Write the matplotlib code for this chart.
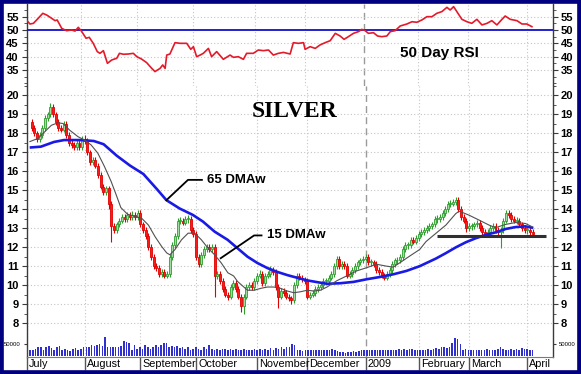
import matplotlib
matplotlib.use("Agg")
import matplotlib.pyplot as plt
from matplotlib.patches import Rectangle
from matplotlib.transforms import Bbox, blended_transform_factory

# ---------------- data (trading-day index: 0 = 1 July 2008) ----------------
first_day = 2
closes = [18.3,18.0,17.7,17.9,18.3,18.8,19.0,19.4,19.0,18.6,
          18.3,18.2,18.5,17.9,17.5,17.4,17.3,17.5,17.3,17.7,
          17.6,17.0,16.5,16.6,16.3,15.8,15.2,14.9,15.1,14.3,
          13.1,12.9,13.2,13.4,13.6,13.5,13.7,13.6,13.7,13.6,
          13.8,13.2,12.9,12.6,12.0,11.5,11.0,10.9,10.6,10.7,
          10.5,10.6,11.5,12.1,12.6,13.4,13.4,13.3,13.5,13.5,
          12.9,12.7,11.5,11.1,11.6,11.9,12.0,11.9,12.0,10.5,
          10.6,10.2,9.8,9.5,9.4,9.9,10.1,9.8,9.4,8.9,
          9.4,9.9,10.0,9.9,10.2,10.5,10.6,10.1,10.5,10.6,
          10.8,10.7,9.9,9.4,9.7,9.6,9.4,9.3,9.2,10.0,
          10.5,10.4,10.3,10.2,9.4,9.5,9.6,9.8,9.9,10.0,
          10.2,10.2,10.4,10.6,11.0,11.4,11.0,11.1,11.0,10.5,
          10.6,10.8,11.0,11.2,11.3,11.4,11.5,11.2,11.2,11.1,
          10.8,10.7,10.5,10.4,10.6,10.8,11.1,11.3,11.3,11.5,
          11.9,12.1,12.1,12.4,12.3,12.5,12.7,12.8,12.9,13.0,
          13.1,13.2,13.5,13.5,13.6,13.8,14.0,14.3,14.3,14.4,
          14.5,14.0,13.6,13.4,13.0,13.1,13.1,13.2,13.3,13.0,
          12.8,12.7,12.8,13.0,13.1,12.9,12.8,12.9,13.4,13.8,
          13.7,13.5,13.4,13.4,13.2,13.0,12.9,12.9,12.8,12.7]
opens = [18.6,18.3,18.0,17.7,17.9,18.3,18.8,19.0,19.4,19.0,
         18.6,18.3,18.2,18.5,17.9,17.5,17.4,17.3,17.5,17.3,
         17.7,17.6,17.0,16.5,16.6,16.3,15.8,15.2,14.9,15.1,
         14.3,13.1,12.9,13.2,13.4,13.6,13.5,13.7,13.6,13.7,
         13.6,13.8,13.2,12.9,12.6,12.0,11.5,11.0,10.9,10.6,
         10.7,10.5,10.6,11.5,12.1,12.6,13.4,13.4,13.3,13.5,
         13.5,12.9,12.7,11.5,11.1,11.6,11.9,12.0,11.9,12.0,
         10.5,10.6,10.2,9.8,9.5,9.4,9.9,10.1,9.8,9.4,
         8.9,9.4,9.9,10.0,9.9,10.2,10.5,10.6,10.1,10.5,
         10.6,10.8,10.7,9.9,9.4,9.7,9.6,9.4,9.3,9.2,
         10.0,10.5,10.4,10.3,10.2,9.4,9.5,9.6,9.8,9.9,
         10.0,10.2,10.2,10.4,10.6,11.0,11.4,11.0,11.1,11.0,
         10.5,10.6,10.8,11.0,11.2,11.3,11.4,11.5,11.2,11.2,
         11.1,10.8,10.7,10.5,10.4,10.6,10.8,11.1,11.3,11.3,
         11.5,11.9,12.1,12.1,12.4,12.3,12.5,12.7,12.8,12.9,
         13.0,13.1,13.2,13.5,13.5,13.6,13.8,14.0,14.3,14.3,
         14.4,14.5,14.0,13.6,13.4,13.0,13.1,13.1,13.2,13.3,
         13.0,12.8,12.7,12.8,13.0,13.1,12.9,12.8,12.9,13.4,
         13.8,13.7,13.5,13.4,13.4,13.2,13.0,12.9,12.9,12.8]
highs = [18.75,18.45,18.15,18.05,18.45,18.95,19.15,19.6,19.55,19.15,
         18.75,18.45,18.65,18.65,18.05,17.65,17.55,17.65,17.65,17.85,
         17.9,17.75,17.15,16.75,16.75,16.45,15.95,15.35,15.25,15.25,
         14.45,13.25,13.35,13.55,13.75,13.75,13.85,13.85,13.9,13.85,
         13.95,13.95,13.35,13.05,12.75,12.15,11.65,11.15,11.05,10.85,
         10.85,10.75,11.65,12.25,12.75,13.55,13.6,13.55,13.65,13.7,
         13.65,13.05,12.85,11.65,11.75,12.05,12.15,12.15,12.15,12.15,
         10.75,10.75,10.35,9.95,9.65,10.05,10.25,10.25,9.95,9.55,
         9.55,10.05,10.15,10.15,10.35,10.65,10.8,10.75,10.65,10.75,
         11.0,10.95,10.85,10.05,9.85,9.85,9.75,9.55,9.45,10.15,
         10.65,10.65,10.55,10.45,10.35,9.65,9.75,9.95,10.05,10.15,
         10.35,10.4,10.55,10.75,11.15,11.55,11.55,11.25,11.25,11.15,
         10.75,10.95,11.15,11.35,11.45,11.55,11.65,11.65,11.4,11.35,
         11.25,10.95,10.85,10.65,10.75,10.95,11.25,11.45,11.5,11.65,
         12.05,12.25,12.3,12.55,12.55,12.65,12.85,12.95,13.05,13.15,
         13.25,13.35,13.65,13.7,13.75,13.95,14.15,14.45,14.5,14.55,
         14.65,14.65,14.15,13.75,13.55,13.25,13.3,13.35,13.45,13.45,
         13.15,12.95,12.95,13.15,13.25,13.25,13.05,13.05,13.55,13.95,
         13.95,13.85,13.65,13.6,13.55,13.35,13.15,13.05,13.05,12.95]
lows = [18.15,17.85,17.55,17.55,17.75,18.15,18.65,18.85,18.85,18.45,
        18.15,18.05,18.05,17.75,17.35,17.25,17.15,17.15,17.15,17.15,
        17.45,16.85,16.35,16.35,16.15,15.65,15.05,14.75,14.75,14.0,
        12.3,12.75,12.75,13.05,13.25,13.35,13.35,13.45,13.45,13.45,
        13.45,13.05,12.75,12.45,11.85,11.35,10.85,10.75,10.45,10.45,
        10.35,10.35,10.45,11.35,11.95,12.45,13.2,13.15,13.15,13.3,
        12.75,12.55,11.3,10.95,10.95,11.45,11.75,11.75,11.75,9.4,
        10.3,10.05,9.65,9.35,9.2,9.25,9.75,9.65,9.25,8.6,
        8.5,9.25,9.75,9.75,9.75,10.05,10.35,9.95,9.95,10.35,
        10.45,10.55,9.75,8.8,9.25,9.45,9.25,9.15,9.0,9.05,
        9.85,10.25,10.15,10.05,9.25,9.25,9.35,9.45,9.65,9.75,
        9.85,10.0,10.05,10.25,10.45,10.85,10.85,10.85,10.85,10.35,
        10.35,10.45,10.65,10.85,11.05,11.15,11.25,11.05,11.0,10.95,
        10.65,10.55,10.35,10.25,10.25,10.45,10.65,10.95,11.1,11.15,
        11.35,11.75,11.9,11.95,12.15,12.15,12.35,12.55,12.65,12.75,
        12.85,12.95,13.05,13.3,13.35,13.45,13.65,13.85,14.1,14.15,
        14.25,13.85,13.45,13.25,12.8,12.85,12.9,12.95,13.05,12.85,
        12.65,12.55,12.55,12.65,12.85,12.75,12.65,11.95,12.75,13.25,
        13.55,13.35,13.25,13.2,13.05,12.85,12.75,12.7,12.65,12.55]
volume_k = [35,26,23,27,35,38,26,38,41,33,
            23,35,41,26,30,26,20,29,32,26,
            29,35,38,38,44,41,45,50,41,79,
            38,35,38,38,35,41,61,59,56,26,
            44,29,38,30,45,38,30,38,45,38,
            44,56,53,35,41,35,41,33,38,29,
            35,26,29,35,29,26,35,30,45,29,
            26,29,23,29,29,26,29,26,29,26,
            23,30,23,26,23,29,26,29,26,29,
            26,32,26,32,29,35,29,35,38,50,
            45,23,26,20,23,23,23,26,23,23,
            26,23,23,23,29,23,20,17,14,11,
            14,17,20,17,20,23,26,26,26,23,
            26,23,26,23,26,23,26,26,23,29,
            26,29,26,29,29,26,26,26,23,26,
            29,26,29,32,29,35,35,32,35,56,
            76,71,50,26,29,26,26,23,26,23,
            26,26,29,23,26,23,29,38,29,26,
            26,29,26,29,26,32,29,30,26,23]

ma15_day = [1.3,4.4,6.9,9.4,11.9,13.8,16.3,19.4,21.9,24.4,
            26.9,29.4,31.9,33.8,35.6,38.1,40.4,43.5,46.0,48.5,
            51.0,52.9,54.1,56.0,58.5,61.0,63.5,66.0,68.5,71.0,
            73.5,76.0,78.2,79.6,83.4,85.9,88.4,90.9,93.4,95.9,
            98.4,100.9,103.4,105.9,108.4,110.9,113.4,117.1,120.9,124.6,
            128.4,132.1,135.9,138.4,140.9,144.6,148.4,150.8,154.5,158.3,
            162.0,163.3,167.0,170.8,174.5,177.0,180.8,184.5,188.3,190.8]
ma15_val = [17.57,17.74,18.09,18.43,18.56,18.52,18.17,17.83,17.65,17.39,
            16.96,16.26,15.48,14.78,14.09,13.74,13.65,13.52,13.17,12.56,
            12.04,11.7,11.6,11.87,12.39,12.74,12.74,12.39,11.95,11.6,
            11.17,10.65,10.48,10.2,9.73,9.73,9.83,9.9,9.9,9.83,
            9.69,9.6,9.65,9.73,9.69,9.73,9.9,10.23,10.49,10.75,
            10.92,11.1,11.0,10.95,11.18,11.53,11.88,12.3,12.73,13.17,
            13.77,13.9,13.69,13.43,13.17,13.03,13.2,13.3,13.25,13.08]

ma65_day = [1.7,5.4,10.4,14.2,20.4,25.4,29.1,34.1,39.1,44.1,
            49.1,52.8,57.8,62.8,66.6,71.0,75.9,79.6,83.4,87.1,
            90.9,94.6,98.4,102.1,105.9,109.6,113.4,118.4,123.4,128.4,
            133.4,138.4,143.4,148.4,154.5,158.3,162.0,165.8,169.5,173.3,
            177.0,180.8,184.5,188.3,190.8]
ma65_val = [17.26,17.3,17.55,17.65,17.65,17.6,17.43,16.82,16.3,15.86,
            15.08,14.48,14.04,13.7,13.35,12.82,12.39,11.95,11.5,11.17,
            10.9,10.7,10.53,10.39,10.25,10.16,10.07,10.1,10.17,10.31,
            10.43,10.57,10.75,11.0,11.4,11.69,11.99,12.26,12.47,12.65,
            12.78,12.96,13.06,13.1,13.03]

rsi_day = [1.6,2.9,4.2,6.0,7.7,9.2,11.0,12.3,13.1,14.8,
           16.6,18.5,19.8,21.0,22.3,23.9,25.1,26.6,28.1,29.1,
           30.4,31.9,33.5,35.4,36.4,37.9,39.7,41.6,42.9,44.7,
           46.6,48.5,49.7,51.6,52.6,53.5,54.1,55.3,57.2,59.1,
           61.6,63.1,64.1,65.3,66.6,67.8,69.7,70.9,72.8,75.3,
           77.8,79.1,80.9,82.8,84.0,86.5,88.4,90.3,92.2,94.0,
           95.9,97.8,100.3,101.5,103.4,105.3,105.9,107.8,109.7,111.5,
           113.4,115.3,117.2,119.0,120.5,122.1,124.0,125.9,127.1,128.4,
           129.6,131.5,133.0,134.6,136.5,137.8,139.6,141.5,144.0,145.9,
           147.7,149.6,151.5,153.4,155.2,157.1,159.0,160.2,161.5,162.7,
           164.6,166.5,168.3,170.2,172.1,174.0,175.8,177.7,179.6,180.8,
           182.7,185.2,187.1,188.9,190.8]
rsi_val = [53.75,52.25,52.5,54.4,56.25,55.6,54.4,53.5,53.75,50.6,
           49.75,50,49.6,51,49.4,46.9,47.25,45,41.9,41.25,
           42.25,37.5,38.75,39.4,41.25,40.9,41,41.25,40,39.1,
           37.75,35.6,34.4,35.6,36.9,35.6,40.6,41,45.25,45,
           45,42.75,43.75,40,40.6,41.25,43.1,40,41.9,39,
           40.6,39.75,40,39,41.25,41.25,42.5,42.25,42.5,40.6,
           41.25,41.6,41,45.25,45,45.25,42.75,43.75,43.1,44.4,
           45.25,46,48.75,47.75,46.5,47.5,48.75,49.4,50.25,49.75,
           48.75,49,47.75,47.5,47.75,49.4,49.75,51.5,52.25,53.1,
           52.9,53.75,55,55,56.25,56.9,58.5,57.5,58.75,56.9,
           54,53.1,52.5,54,51.9,52.5,53.5,51.9,54,55.25,
           54,53.5,52.25,52.25,51.25]

month_labels = ['July', 'August', 'September', 'October', 'November',
                'December', '2009', 'February', 'March', 'April']
month_start = [0, 22, 43, 64, 87, 106, 128, 148, 167, 189]
price_ticks = [8, 9, 10, 11, 12, 13, 14, 15, 16, 17, 18, 19, 20]
rsi_ticks = [35, 40, 45, 55]
rsi_mid = 50
support_level = 12.6
support_span = [154.9, 196.0]

# ---------------- figure ----------------
W, H = 581, 374
fig = plt.figure(figsize=(W / 100, H / 100), dpi=100)
fig.patch.set_facecolor('white')
plt.rcParams['font.family'] = ['Liberation Sans', 'DejaVu Sans']


def rect(x0, y0, x1, y1):
    return [x0 / W, 1 - y1 / H, (x1 - x0) / W, (y1 - y0) / H]


XL = (1.61, 198.7)
ax_r = fig.add_axes(rect(26.5, 4, 553, 86))
ax = fig.add_axes(rect(26.5, 86, 553, 357))
ax_v = fig.add_axes(rect(26.5, 330, 553, 355.5))

GRID = '#c4c4c4'
SPINE = '#3a3a3a'

for a in (ax_r, ax):
    a.set_xlim(*XL)
    a.set_facecolor('white')
    for s in ('top', 'bottom'):
        a.spines[s].set_visible(False)
    for s in ('left', 'right'):
        a.spines[s].set_color(SPINE)
        a.spines[s].set_linewidth(1.0)
    for m in month_start:
        if m == 128:
            a.axvline(m, color='#9a9a9a', lw=1.0, ls=(0, (5, 3)), zorder=1)
        else:
            a.axvline(m, color=GRID, lw=0.8, ls=(0, (1, 2)), zorder=1)

ax.spines['bottom'].set_visible(True)
ax.spines['bottom'].set_color('#7a7a7a')

# ---- RSI panel ----
ax_r.set_ylim(29.0, 59.75)
for t in rsi_ticks:
    ax_r.axhline(t, color=GRID, lw=0.8, ls=(0, (1, 2)), zorder=1)
ax_r.axhline(rsi_mid, color='#1010c8', lw=1.3, zorder=3)
ax_r.plot(rsi_day, rsi_val, color='#e41a2a', lw=1.2, zorder=4)
ax_r.set_yticks(sorted(rsi_ticks + [rsi_mid]))
ax_r.set_yticklabels([str(t) for t in sorted(rsi_ticks + [rsi_mid])],
                     fontweight='bold', fontsize=8)
ax_r.set_yticks([30 + 2.5 * k for k in range(12)], minor=True)
ax_r.tick_params(axis='y', which='both', left=True, right=True,
                 labelleft=True, labelright=True, direction='out',
                 color=SPINE, pad=2)
ax_r.tick_params(axis='y', which='major', length=3.5)
ax_r.tick_params(axis='y', which='minor', length=2)
ax_r.set_xticks([])
ax_r.text(141.4, 41.4, '50 Day RSI', fontsize=11, fontweight='bold',
          ha='left', va='center', zorder=5)

# ---- price panel ----
ax.set_ylim(6.21, 20.33)
for t in price_ticks:
    ax.axhline(t, color=GRID, lw=0.8, ls=(0, (1, 2)), zorder=1)

days = list(range(first_day, first_day + len(closes)))
up_face, up_edge = '#9fdc9f', '#2e9e2e'
dn_face, dn_edge = '#ff1a1a', '#e00000'
for d, o, h, l, c in zip(days, opens, highs, lows, closes):
    up = c >= o
    ec = up_edge if up else dn_edge
    fc = up_face if up else dn_face
    ax.vlines(d, l, h, color=ec, lw=0.8, zorder=3)
    lo, hi = min(o, c), max(o, c)
    ax.bar(d, max(hi - lo, 0.05), bottom=lo, width=0.75, color=fc,
           edgecolor=ec, linewidth=0.6, zorder=4)

ax.plot(ma65_day, ma65_val, color='#1a1ae6', lw=1.9, zorder=5)
ax.plot(ma15_day, ma15_val, color='#505050', lw=0.8, zorder=5)
ax.plot(support_span, [support_level, support_level], color='#303030',
        lw=2.2, zorder=6, solid_capstyle='butt')

ax.plot([52.8, 60.95, 66.2], [14.48, 15.55, 15.55], color='black', lw=1.3, zorder=6)
ax.text(68.1, 15.55, '65 DMAw', fontsize=9.5, fontweight='bold',
        ha='left', va='center', zorder=6)
ax.plot([73.3, 85.9, 88.7], [11.42, 12.62, 12.62], color='black', lw=1.3, zorder=6)
ax.text(90.9, 12.62, '15 DMAw', fontsize=9.5, fontweight='bold',
        ha='left', va='center', zorder=6)
ax.text(101.0, 19.18, 'SILVER', fontsize=17, fontweight='bold',
        family=['Liberation Serif', 'DejaVu Serif'], ha='center', va='center', zorder=6)

ax.set_yticks(price_ticks)
ax.set_yticklabels([str(t) for t in price_ticks], fontweight='bold', fontsize=8)
ax.set_yticks([8 + 0.5 * k for k in range(26)], minor=True)
ax.tick_params(axis='y', which='both', left=True, right=True,
               labelleft=True, labelright=True, direction='out',
               color=SPINE, pad=2)
ax.tick_params(axis='y', which='major', length=3.5)
ax.tick_params(axis='y', which='minor', length=2)
ax.set_xticks(month_start)
ax.set_xticklabels([''] * len(month_start))
ax.tick_params(axis='x', length=9, width=1.0, color='#555555', direction='out')

trans = blended_transform_factory(ax.transData, ax.transAxes)
clip = Bbox.from_extents(27, 0, W, H)
for lab, m in zip(month_labels, month_start):
    t = ax.text(m + 0.8, -0.027, lab, transform=trans, fontsize=7.8,
                ha='left', va='center', clip_on=True)
    t.set_clip_box(clip)

# ---- volume ----
ax_v.set_xlim(*XL)
ax_v.set_ylim(0, 111000)
ax_v.patch.set_alpha(0)
for s in ax_v.spines.values():
    s.set_visible(False)
ax_v.bar(days, [v * 1000 for v in volume_k], width=0.6, color='#3030d0',
         linewidth=0, zorder=3)
ax_v.set_xticks([])
ax_v.set_yticks([50000])
ax_v.set_yticklabels(['50000'], fontsize=4.3)
ax_v.tick_params(axis='y', left=True, right=True, labelleft=True,
                 labelright=True, length=2, color=SPINE, pad=2)

# ---- outer border ----
fig.patches.append(Rectangle((0, 0), 1, 1, transform=fig.transFigure,
                             fill=False, edgecolor='#000080', linewidth=5.5,
                             zorder=10))

fig.savefig('out.png', dpi=100)
